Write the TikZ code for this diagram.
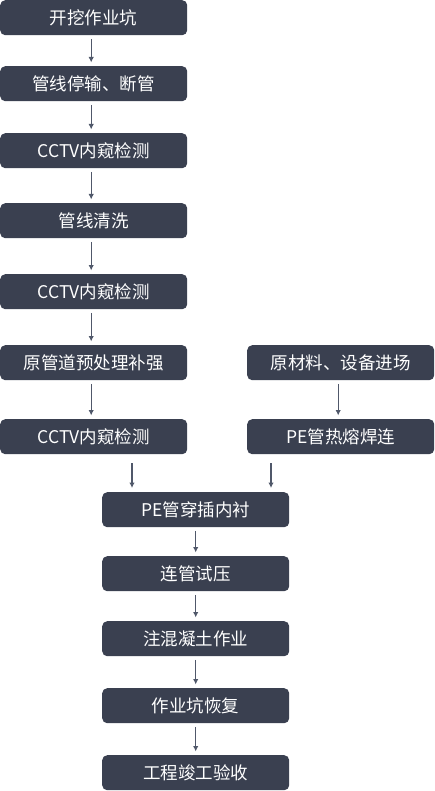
\documentclass[tikz,border=0pt]{standalone}
\usepackage{fontspec}
\setmainfont{Noto Sans CJK SC}
\usetikzlibrary{arrows.meta}
\definecolor{boxc}{HTML}{3A4050}
\definecolor{arrc}{HTML}{50586A}
\begin{document}
\begin{tikzpicture}[x=1pt,y=-1pt,
  stepbox/.style={fill=boxc,rounded corners=5pt,text=white,font=\fontsize{17.5}{20}\selectfont,inner sep=0pt,minimum width=187pt,minimum height=35pt,anchor=north west},
  conn/.style={draw=arrc,line width=1.1pt,-{Latex[length=5.5pt,width=5.5pt]}}]
\useasboundingbox (0,0) rectangle (434,791);
% left column
\node[stepbox] (a1) at (0,0) {开挖作业坑};
\node[stepbox] (a2) at (0,66) {管线停输、断管};
\node[stepbox] (a3) at (0,133) {CCTV内窥检测};
\node[stepbox] (a4) at (0,203) {管线清洗};
\node[stepbox] (a5) at (0,274) {CCTV内窥检测};
\node[stepbox] (a6) at (0,345) {原管道预处理补强};
\node[stepbox] (a7) at (0,419) {CCTV内窥检测};
% right column
\node[stepbox] (b1) at (247,345) {原材料、设备进场};
\node[stepbox] (b2) at (247,419) {PE管热熔焊连};
% center column
\node[stepbox] (c1) at (102,492) {PE管穿插内衬};
\node[stepbox] (c2) at (102,556) {连管试压};
\node[stepbox] (c3) at (102,621) {注混凝土作业};
\node[stepbox] (c4) at (102,688) {作业坑恢复};
\node[stepbox] (c5) at (102,755) {工程竣工验收};
% arrows
\foreach \u/\v in {a1/a2,a2/a3,a3/a4,a4/a5,a5/a6,a6/a7}{
  \draw[conn] ([xshift=-2.5pt,yshift=-3.5pt]\u.south) -- ([xshift=-2.5pt,yshift=3.5pt]\v.north);
}
\draw[conn] ([xshift=-2.5pt,yshift=-3.5pt]b1.south) -- ([xshift=-2.5pt,yshift=3.5pt]b2.north);
\coordinate (m1) at (132,463);
\coordinate (m2) at (271,463);
\draw[conn] (m1) -- ([yshift=4pt]m1 |- c1.north);
\draw[conn] (m2) -- ([yshift=4pt]m2 |- c1.north);
\foreach \u/\v in {c1/c2,c2/c3,c3/c4,c4/c5}{
  \draw[conn] ([yshift=-3.5pt]\u.south) -- ([yshift=3.5pt]\v.north);
}
\end{tikzpicture}
\end{document}
